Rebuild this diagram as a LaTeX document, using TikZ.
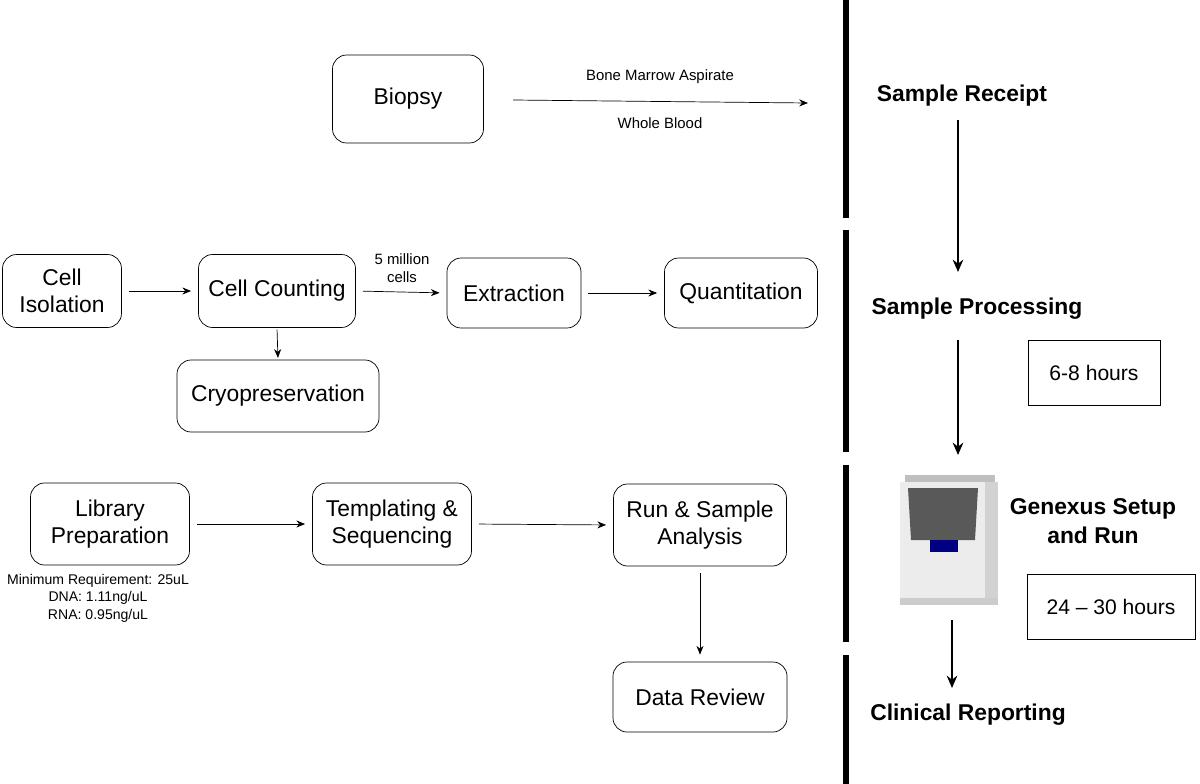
\documentclass[tikz,border=0pt]{standalone}
\usepackage{fontspec}
\setmainfont{Liberation Sans}
\usetikzlibrary{arrows.meta}
\tikzset{
  procbox/.style={draw,rounded corners=8pt,align=center,font=\fontsize{13}{15}\selectfont,inner sep=0pt},
  stage/.style={font=\bfseries\fontsize{13}{16.5}\selectfont,align=center},
  note/.style={font=\fontsize{8.5}{10}\selectfont,align=center},
  timebox/.style={draw,font=\fontsize{12}{14}\selectfont,inner sep=0pt},
  flow/.style={-{Stealth[length=5pt,width=4pt]},thin,shorten <=4pt,shorten >=4pt},
  bigflow/.style={-{Stealth[length=7pt,width=6pt]},line width=1.4pt},
}
\begin{document}
\begin{tikzpicture}[x=0.02cm,y=-0.02cm]
    \useasboundingbox (0,0) rectangle (1200,784);
    % process steps
    \node[procbox,minimum width=151*0.02cm,minimum height=88*0.02cm] (biopsy) at (408,99) {Biopsy};
    \node[procbox,minimum width=119*0.02cm,minimum height=73*0.02cm] (iso) at (62,291) {Cell\\Isolation};
    \node[procbox,minimum width=157*0.02cm,minimum height=73*0.02cm] (count) at (277,291) {Cell Counting};
    \node[procbox,minimum width=134*0.02cm,minimum height=70*0.02cm] (extr) at (514,293) {Extraction};
    \node[procbox,minimum width=153*0.02cm,minimum height=70*0.02cm] (quant) at (741,293) {Quantitation};
    \node[procbox,minimum width=202*0.02cm,minimum height=72*0.02cm] (cryo) at (278,396) {Cryopreservation};
    \node[procbox,minimum width=159*0.02cm,minimum height=82*0.02cm] (lib) at (110,524) {Library\\Preparation};
    \node[procbox,minimum width=159*0.02cm,minimum height=82*0.02cm] (templ) at (392,524) {Templating \&\\Sequencing};
    \node[procbox,minimum width=173*0.02cm,minimum height=82*0.02cm] (run) at (700,525) {Run \& Sample\\Analysis};
    \node[procbox,minimum width=174*0.02cm,minimum height=70*0.02cm] (review) at (700,697) {Data Review};
    % notes
    \node[note] (bma) at (660,77) {Bone Marrow Aspirate};
    \node[note] (wb) at (660,123) {Whole Blood};
    \node[note] (cells) at (402,268) {5 million\\cells};
    \node[note,font=\fontsize{8}{10}\selectfont] (req) at (98,598) {Minimum Requirement: 25uL\\DNA: 1.11ng/uL\\RNA: 0.95ng/uL};
    % stages
    \node[stage] (receipt) at (962,96) {Sample Receipt};
    \node[stage] (proc) at (977,309) {Sample Processing};
    \node[stage] (genexus) at (1093,521) {Genexus Setup\\and Run};
    \node[stage] (report) at (968,715) {Clinical Reporting};
    \node[timebox,minimum width=132*0.02cm,minimum height=65*0.02cm] (t1) at (1094,373) {6-8 hours};
    \node[timebox,minimum width=168*0.02cm,minimum height=65*0.02cm] (t2) at (1111,607) {24 -- 30 hours};
    % instrument
    \begin{scope}
        \fill[gray!15] (900,482) rectangle (998,600);
        \fill[gray!35] (985,482) rectangle (998,600);
        \fill[gray!70!black] (908,488) -- (978,488) -- (975,540) -- (911,540) -- cycle;
        \fill[blue!50!black] (930,540) rectangle (958,552);
        \fill[gray!50] (905,475) rectangle (995,482);
        \fill[gray!40] (900,598) rectangle (998,605);
    \end{scope}
    % separator
    \foreach \ya/\yb in {0/218,230/452,465/642,655/784}
        \draw[line width=3pt] (846,\ya) -- (846,\yb);
    % connectors
    \coordinate (bs) at (513,100);
    \coordinate (be) at (808,103);
    \coordinate (a1s) at (958,120);
    \coordinate (a1e) at (958,272);
    \coordinate (a2s) at (958,340);
    \coordinate (a2e) at (958,455);
    \coordinate (a3s) at (952,620);
    \coordinate (a3e) at (952,688);
    \draw[flow,shorten <=0pt,shorten >=0pt] (bs) -- (be);
    \draw[flow] (iso.east) -- (count.west);
    \draw[flow] (count.east) -- (extr.west);
    \draw[flow] (extr.east) -- (quant.west);
    \draw[flow,shorten <=1pt,shorten >=1pt] (count.south) -- (cryo.north);
    \draw[flow] (lib.east) -- (templ.west);
    \draw[flow] (templ.east) -- (run.west);
    \draw[flow] (run.south) -- (review.north);
    \draw[bigflow] (a1s) -- (a1e);
    \draw[bigflow] (a2s) -- (a2e);
    \draw[bigflow] (a3s) -- (a3e);
\end{tikzpicture}
\end{document}
